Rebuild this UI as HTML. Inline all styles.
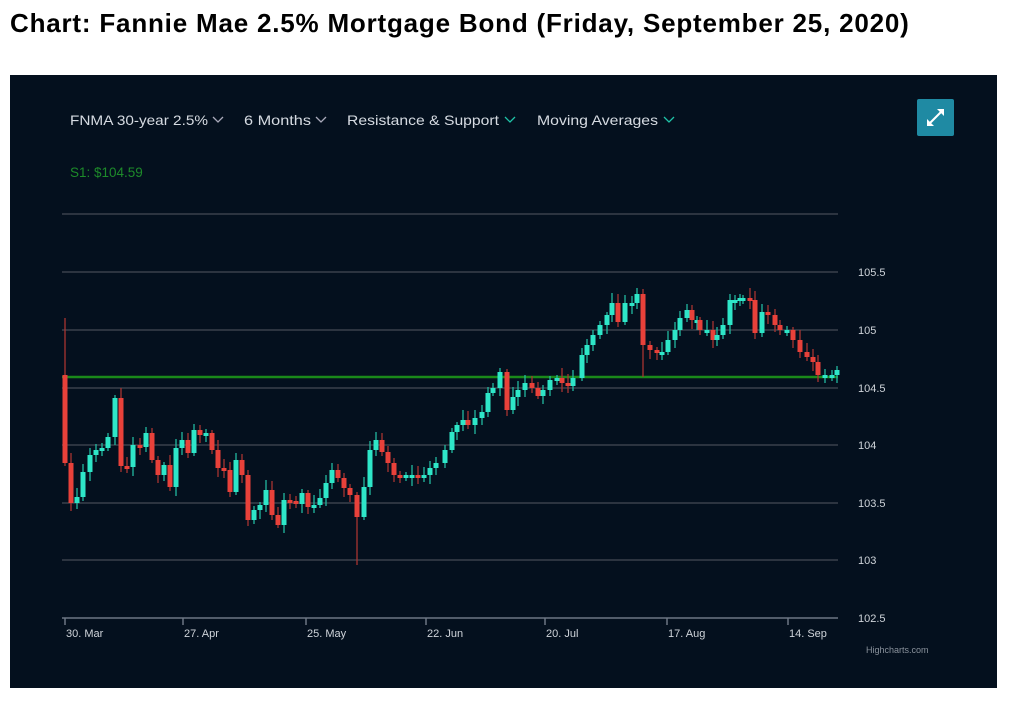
<!DOCTYPE html>
<html><head><meta charset="utf-8">
<style>
body{margin:0;background:#fff;width:1024px;height:707px;overflow:hidden;font-family:"Liberation Sans",sans-serif}
h1{position:absolute;left:10px;top:8px;margin:0;font-size:26px;font-weight:bold;color:#000;letter-spacing:0.8px;white-space:nowrap}
#box{position:absolute;left:10px;top:75px;width:987px;height:613px;background:#04101e}
svg{position:absolute;left:0;top:0}
</style></head><body>
<h1>Chart: Fannie Mae 2.5% Mortgage Bond (Friday, September 25, 2020)</h1>
<div id="box"></div>
<svg id="s" width="1024" height="707" font-family="Liberation Sans, sans-serif">
<g fill="#d6dbe2" font-size="14">
<text x="70" y="125" textLength="138" lengthAdjust="spacingAndGlyphs">FNMA 30-year 2.5%</text>
<text x="244" y="125" textLength="67" lengthAdjust="spacingAndGlyphs">6 Months</text>
<text x="347" y="125" textLength="152" lengthAdjust="spacingAndGlyphs">Resistance &amp; Support</text>
<text x="537" y="125" textLength="121" lengthAdjust="spacingAndGlyphs">Moving Averages</text>
</g>
<g fill="none" stroke-width="1.3">
<polyline points="213,117 218,122 223,117" stroke="#aab"/>
<polyline points="316,117 321,122 326,117" stroke="#aab"/>
<polyline points="505,117 510,122 515,117" stroke="#1fc4a8"/>
<polyline points="664,117 669,122 674,117" stroke="#1fc4a8"/>
</g>
<text x="70" y="177" fill="#1d8a2a" font-size="13.5">S1: $104.59</text>
<rect x="917" y="99" width="37" height="37" rx="2" fill="#1f8aa3"/>
<g stroke="#fff" stroke-width="2" fill="#fff"><line x1="928" y1="125" x2="943" y2="110"/></g>
<polygon points="944,109 944,116 937,109" fill="#fff"/><polygon points="927,126 927,119 934,126" fill="#fff"/>
<g stroke="#39404c" stroke-width="1.5" id="grid"></g>
<g fill="#cfd4da" font-size="11" id="ylab"></g>
<line x1="62" y1="377" x2="838" y2="377" stroke="#1a8a1a" stroke-width="2.5"/>
<g id="c"></g>
<g stroke="#6c7684" stroke-width="1.5"><line x1="62" y1="618" x2="838" y2="618"/></g>
<g fill="#cfd4da" font-size="11" id="xl"></g>
<text x="866" y="653" fill="#8a929c" font-size="9">Highcharts.com</text>
</svg>
<script>
(function(){
var NS="http://www.w3.org/2000/svg";
function el(p,t,a,txt){var e=document.createElementNS(NS,t);for(var k in a)e.setAttribute(k,a[k]);if(txt)e.textContent=txt;document.getElementById(p).appendChild(e);}
var gy=[214,272,330,388,445,503,560];
gy.forEach(function(y){el("grid","line",{x1:62,y1:y,x2:838,y2:y});});
[["105.5",272],["105",330],["104.5",388],["104",445],["103.5",503],["103",560],["102.5",618]].forEach(function(a){el("ylab","text",{x:858,y:a[1]+4},a[0]);});
[["30. Mar",65],["27. Apr",183],["25. May",306],["22. Jun",426],["20. Jul",545],["17. Aug",667],["14. Sep",788]].forEach(function(a){
 el("grid","line",{x1:a[1],y1:618,x2:a[1],y2:625,stroke:"#6c7684"});el("xl","text",{x:a[1]+1,y:637},a[0]);});
var d=[[65,463],[71,503],[77,497],[83,472],[90,455],[96,450],[102,448],[108,437],[115,398],[121,466],[127,467],[133,445],[140,447],[146,433],[152,460],[158,475],[164,465],[170,487],[176,448],[182,440],[188,453],[194,430],[200,435],[206,433],[212,450],[218,468],[224,470],[230,492],[236,460],[242,475],[248,520],[254,510],[260,505],[266,490],[272,515],[278,525],[284,500],[290,501],[296,504],[302,493],[308,507],[314,505],[320,498],[326,483],[332,470],[338,478],[344,488],[350,495],[357,517],[364,487],[370,450],[376,440],[382,452],[388,463],[394,475],[400,478],[406,475],[412,475],[418,477],[424,475],[430,468],[436,463],[445,450],[452,432],[457,425],[463,420],[468,425],[475,418],[482,412],[488,393],[493,388],[500,372],[507,410],[513,397],[518,390],[525,383],[532,388],[538,396],[543,390],[550,380],[557,378],[562,383],[568,386],[573,378],[582,355],[587,345],[593,335],[600,325],[607,315],[612,303],[618,322],[625,303],[632,303],[637,294],[643,345],[650,350],[657,352],[662,352],[668,340],[675,330],[680,318],[687,310],[692,320],[697,320],[700,330],[707,330],[713,340],[717,335],[723,325],[730,300],[735,300],[740,298],[743,298],[750,300],[755,333],[762,312],[768,315],[775,325],[780,330],[787,330],[793,340],[800,352],[807,357],[813,362],[818,375],[825,375],[832,375],[837,370]];
var prev=375;
for(var i=0;i<d.length;i++){var x=d[i][0],c=d[i][1],o=(i==0?375:prev);
 var red=c>o,col=red?"#e8413a":"#2ee6c8";var tp=Math.min(o,c),bt=Math.max(o,c);if(bt-tp<3){bt=tp+3;}
 var h1=3+((i*7)%8),h2=3+((i*5)%7);var wt=tp-h1,wb=bt+h2;
 if(i==0){wt=318;}if(x==357)wb=565;if(x==643)wb=377;
 el("c","line",{x1:x,y1:wt,x2:x,y2:wb,stroke:red?"#a83430":"#22b8a0","stroke-width":1.3});
 el("c","rect",{x:x-2.5,y:tp,width:5,height:bt-tp,fill:col});
 prev=c;}
})();
</script>
</body></html>
